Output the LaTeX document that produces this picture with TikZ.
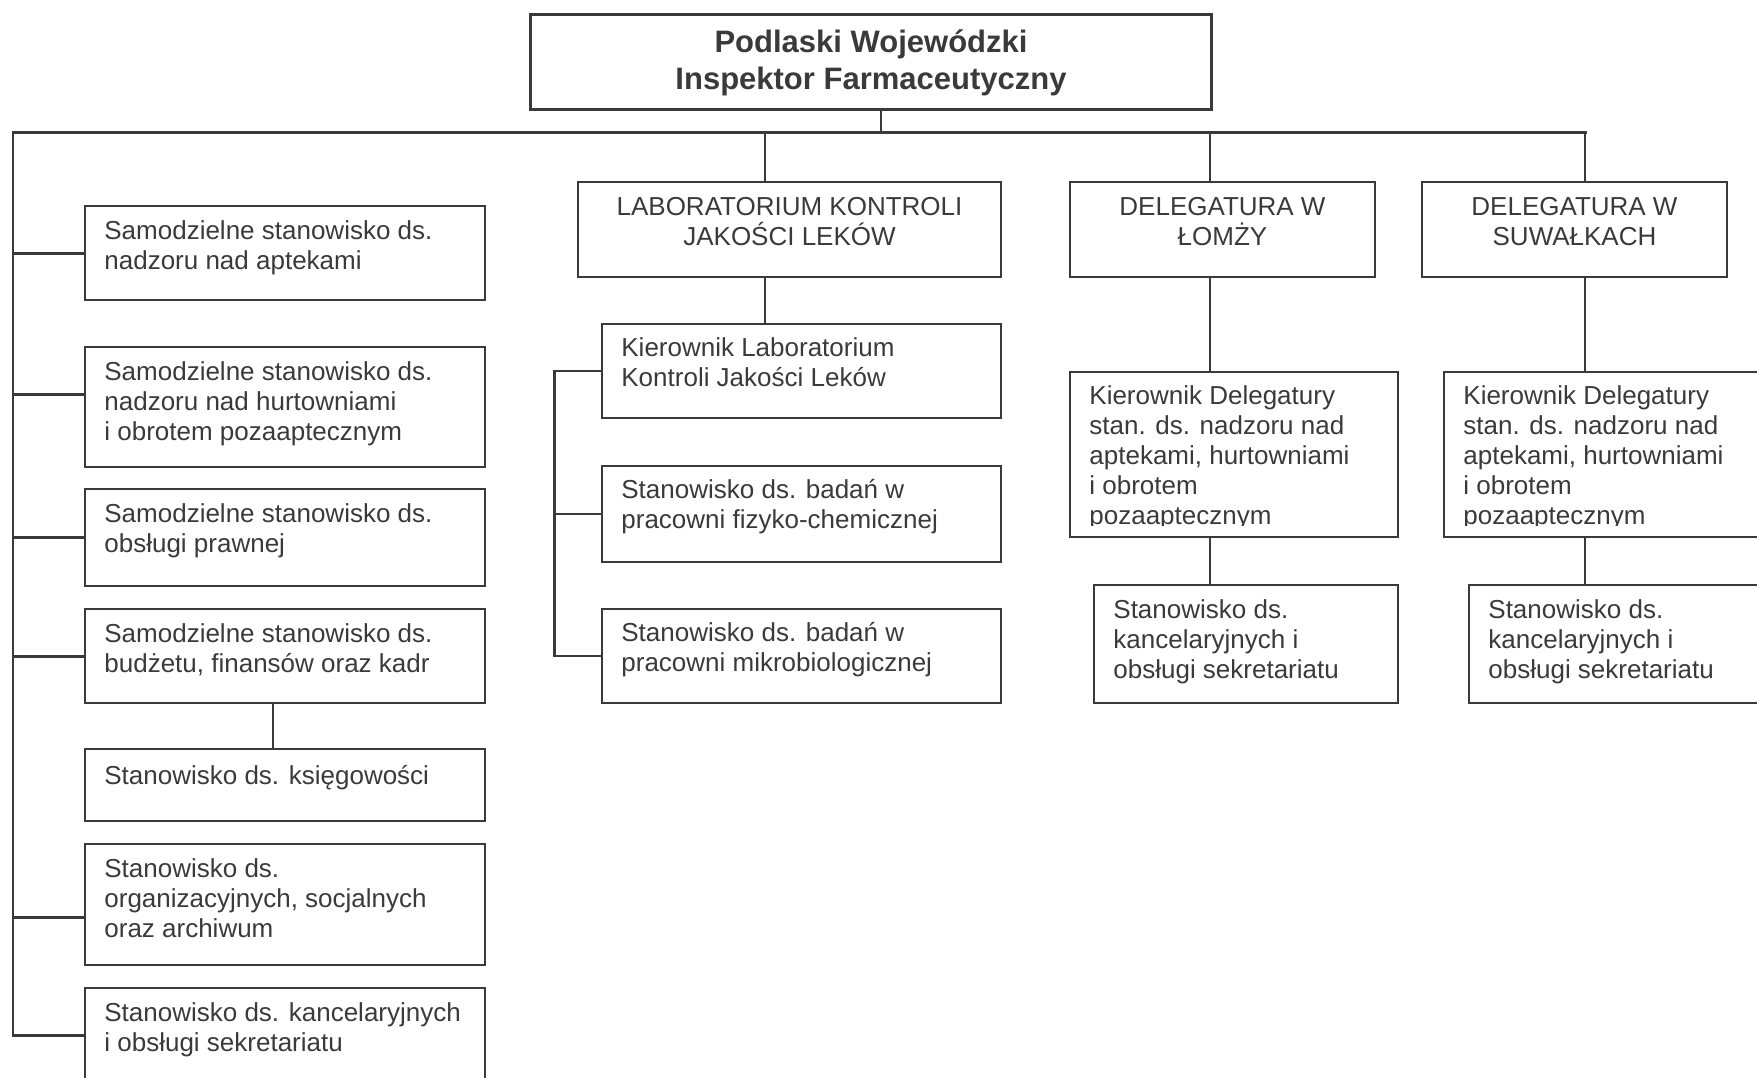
\documentclass[tikz,border=0pt]{standalone}
\usepackage{fontspec}
\setmainfont{Liberation Sans}
\usetikzlibrary{calc}
\definecolor{ink}{RGB}{58,58,58}

\tikzset{
  unit/.style={draw=ink, line width=1pt, anchor=north west, inner sep=0pt},
  txt/.style={anchor=north west, align=left, inner xsep=10pt, inner ysep=7.5pt,
    text=ink, font=\fontsize{13}{15}\selectfont, execute at begin node=\strut},
  ctxt/.style={txt, anchor=north, align=center, inner ysep=8.2pt},
  bus/.style={draw=ink, line width=1.5pt, line cap=rect},
  link/.style={draw=ink, line width=1.1pt, line cap=rect}
}

\begin{document}
\begin{tikzpicture}[x=0.5pt, y=-0.5pt]
        \useasboundingbox (0,0) rectangle (1757,1077);
        \clip (0,0) rectangle (1757,1077);

        % Define the points of the bus
        \coordinate (busL) at (13,132);
        \coordinate (busR) at (1585,132);
        \coordinate (hub) at (881,132);
        \coordinate (labx) at (765,132);
        \coordinate (dlx) at (1210,132);
        \coordinate (labL) at (554.5,0);
        \coordinate (kx) at (273,0);

        % Draw the boxes
        \node[unit, line width=1.5pt, minimum width=340.5pt, minimum height=47.5pt] (top) at (529,13) {};

        \node[unit, minimum width=200pt, minimum height=47pt] (b1) at (84,205) {};
        \node[unit, minimum width=200pt, minimum height=60pt] (b2) at (84,346) {};
        \node[unit, minimum width=200pt, minimum height=48.5pt] (b3) at (84,488) {};
        \node[unit, minimum width=200pt, minimum height=47pt] (b4) at (84,608) {};
        \node[unit, minimum width=200pt, minimum height=36pt] (b5) at (84,748) {};
        \node[unit, minimum width=200pt, minimum height=60.5pt] (b6) at (84,843) {};
        \node[unit, minimum width=200pt, minimum height=47pt] (b7) at (84,987) {};

        \node[unit, minimum width=211.5pt, minimum height=47.5pt] (lab) at (577,181) {};
        \node[unit, minimum width=199.5pt, minimum height=47pt] (kl) at (601,323) {};
        \node[unit, minimum width=199.5pt, minimum height=48pt] (fiz) at (601,465) {};
        \node[unit, minimum width=199.5pt, minimum height=47pt] (mik) at (601,608) {};

        \node[unit, minimum width=152.5pt, minimum height=47.5pt] (dl) at (1069,181) {};
        \node[unit, minimum width=152.5pt, minimum height=47.5pt] (ds) at (1421,181) {};
        \node[unit, minimum width=164pt, minimum height=82.5pt] (kdl) at (1069,371) {};
        \node[unit, minimum width=164pt, minimum height=82.5pt] (kds) at (1443,371) {};
        \node[unit, minimum width=152pt, minimum height=59pt] (sl) at (1093,584) {};
        \node[unit, minimum width=152pt, minimum height=59pt] (ss) at (1468,584) {};

        % Label the boxes
        \node[ctxt, inner ysep=8.3pt, font=\fontsize{15.5}{18.3}\selectfont\bfseries] (topt) at (top.north)
            {Podlaski Wojewódzki\\Inspektor Farmaceutyczny};

        \node[txt] (b1t) at (b1.north west) {Samodzielne stanowisko ds.\\nadzoru nad aptekami};
        \node[txt] (b2t) at (b2.north west) {Samodzielne stanowisko ds.\\nadzoru nad hurtowniami\\i obrotem pozaaptecznym};
        \node[txt] (b3t) at (b3.north west) {Samodzielne stanowisko ds.\\obsługi prawnej};
        \node[txt] (b4t) at (b4.north west) {Samodzielne stanowisko ds.\\budżetu, finansów oraz kadr};
        \node[txt] (b5t) at (b5.north west) {Stanowisko ds. księgowości};
        \node[txt] (b6t) at (b6.north west) {Stanowisko ds.\\organizacyjnych, socjalnych\\oraz archiwum};
        \node[txt] (b7t) at (b7.north west) {Stanowisko ds. kancelaryjnych\\i obsługi sekretariatu};

        \node[ctxt] (labt) at (lab.north) {LABORATORIUM KONTROLI\\JAKOŚCI LEKÓW};
        \node[txt, inner ysep=7.1pt] (klt) at (kl.north west) {Kierownik Laboratorium\\Kontroli Jakości Leków};
        \node[txt, inner ysep=7.1pt] (fizt) at (fiz.north west) {Stanowisko ds. badań w\\pracowni fizyko-chemicznej};
        \node[txt, inner ysep=7.1pt] (mikt) at (mik.north west) {Stanowisko ds. badań w\\pracowni mikrobiologicznej};

        \node[ctxt] (dlt) at (dl.north) {DELEGATURA W\\ŁOMŻY};
        \node[ctxt] (dst) at (ds.north) {DELEGATURA W\\SUWAŁKACH};
        \begin{scope}
            \clip (kdl.north west) rectangle ([yshift=6.5pt]kdl.south east);
            \node[txt, inner ysep=7pt] (kdlt) at (kdl.north west) {Kierownik Delegatury\\stan. ds. nadzoru nad\\aptekami, hurtowniami\\i obrotem\\pozaaptecznym};
        \end{scope}
        \begin{scope}
            \clip (kds.north west) rectangle ([yshift=6.5pt]kds.south east);
            \node[txt, inner ysep=7pt] (kdst) at (kds.north west) {Kierownik Delegatury\\stan. ds. nadzoru nad\\aptekami, hurtowniami\\i obrotem\\pozaaptecznym};
        \end{scope}
        \node[txt] (slt) at (sl.north west) {Stanowisko ds.\\kancelaryjnych i\\obsługi sekretariatu};
        \node[txt] (sst) at (ss.north west) {Stanowisko ds.\\kancelaryjnych i\\obsługi sekretariatu};

        % Draw the bus and the drops
        \draw[bus] (busL) -- (busR);
        \draw[link] (hub |- top.south) -- (hub);
        \draw[link] (busL) -- (busL |- b7.west);
        \draw[link] (labx) -- (labx |- lab.north);
        \draw[link] (dlx) -- (dlx |- dl.north);
        \draw[link] (busR) -- (busR |- ds.north);

        % Left column branches
        \coordinate (b2in) at ([yshift=6.5pt]b2.west);
        \coordinate (b6in) at ([yshift=-6.25pt]b6.west);
        \draw[bus] (busL |- b1.west) -- (b1.west);
        \draw[bus] (busL |- b2in) -- (b2in);
        \draw[bus] (busL |- b3.west) -- (b3.west);
        \draw[bus] (busL |- b4.west) -- (b4.west);
        \draw[bus] (busL |- b6in) -- (b6in);
        \draw[bus] (busL |- b7.west) -- (b7.west);
        \draw[link] (kx |- b4.south) -- (kx |- b5.north);

        % Laboratory branches
        \draw[link] (labx |- lab.south) -- (labx |- kl.north);
        \draw[link] (labL |- kl.west) -- (labL |- mik.west);
        \draw[link] (labL |- kl.west) -- (kl.west);
        \draw[link] (labL |- fiz.west) -- (fiz.west);
        \draw[link] (labL |- mik.west) -- (mik.west);

        % Delegatures
        \draw[link] (dlx |- dl.south) -- (dlx |- kdl.north);
        \draw[link] (dlx |- kdl.south) -- (dlx |- sl.north);
        \draw[link] (busR |- ds.south) -- (busR |- kds.north);
        \draw[link] (busR |- kds.south) -- (busR |- ss.north);
    \end{tikzpicture}
\end{document}
